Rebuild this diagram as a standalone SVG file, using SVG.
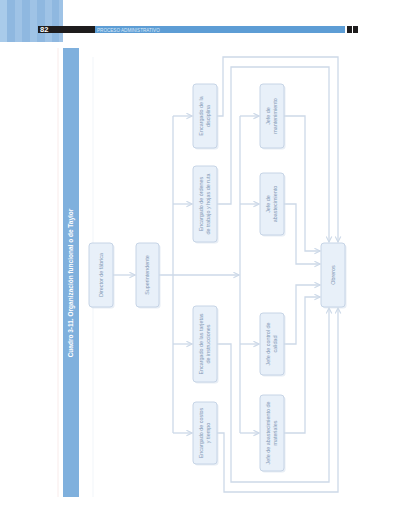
<svg xmlns="http://www.w3.org/2000/svg" width="400" height="526" viewBox="0 0 400 526">
<defs>
<style>
.box{fill:#e8f0f9;stroke:#c6d4e6;stroke-width:1}
.sh{fill:#d9e3ee;opacity:0.6}
.t{font-family:"Liberation Sans",Arial,sans-serif;font-size:5.4px;fill:#8499b6;text-anchor:middle}
.c{fill:none;stroke:#cdd9e8;stroke-width:1.3}
</style>
<marker id="ah" viewBox="0 0 10 10" refX="9" refY="5" markerWidth="7" markerHeight="7" markerUnits="userSpaceOnUse" orient="auto">
<path d="M1,1 L9,5 L1,9" fill="none" stroke="#cdd9e8" stroke-width="1.6"/>
</marker>
</defs>
<rect width="400" height="526" fill="#ffffff"/>
<!-- header -->
<g id="header">
<rect x="0" y="0" width="63" height="42" fill="#9fc3e6"/>
<rect x="0" y="0" width="7" height="42" fill="#a9cbea"/>
<rect x="7" y="0" width="8" height="42" fill="#8fb8e0"/>
<rect x="22" y="0" width="8" height="42" fill="#8fb8e0"/>
<rect x="37" y="0" width="8" height="42" fill="#8fb8e0"/>
<rect x="52" y="0" width="7" height="42" fill="#8fb8e0"/>
<rect x="38" y="26" width="57" height="7" fill="#1e1c1d"/>
<text x="40" y="32.3" font-family="Liberation Sans,Arial,sans-serif" font-size="7.5" font-weight="bold" fill="#ffffff">82</text>
<rect x="95" y="26" width="250" height="7" fill="#5d9dd5"/>
<text x="97" y="31.6" font-family="Liberation Sans,Arial,sans-serif" font-size="4.6" fill="#dbe9f7">PROCESO ADMINISTRATIVO</text>
<rect x="347" y="26" width="5" height="7" fill="#1e1c1d"/>
<rect x="353" y="26" width="5" height="7" fill="#1e1c1d"/>
</g>
<line x1="58" y1="48" x2="58" y2="497" stroke="#f6e6e4" stroke-width="0.8"/>
<line x1="93" y1="57" x2="93" y2="497" stroke="#eef2f7" stroke-width="0.8"/>
<!-- title bar -->
<g id="title">
<rect x="63" y="48" width="16" height="449" fill="#7fb0dd"/>
<text transform="translate(71,283) rotate(-90)" x="0" y="2.3" font-family="Liberation Sans,Arial,sans-serif" font-size="6.5" font-weight="bold" fill="#ffffff" text-anchor="middle">Cuadro 3-11. Organización funcional o de Taylor</text>
</g>
<!-- connectors -->
<g id="connectors">
<path class="c" d="M113,275 H135" marker-end="url(#ah)"/>
<path class="c" d="M159,275 H239" marker-end="url(#ah)"/>
<path class="c" d="M173,116 V433"/>
<path class="c" d="M173,116 H192" marker-end="url(#ah)"/>
<path class="c" d="M173,204 H192" marker-end="url(#ah)"/>
<path class="c" d="M173,344 H192" marker-end="url(#ah)"/>
<path class="c" d="M173,433 H192" marker-end="url(#ah)"/>
<path class="c" d="M240,116 V433"/>
<path class="c" d="M240,116 H259" marker-end="url(#ah)"/>
<path class="c" d="M240,204 H259" marker-end="url(#ah)"/>
<path class="c" d="M240,344 H259" marker-end="url(#ah)"/>
<path class="c" d="M240,433 H259" marker-end="url(#ah)"/>
<path class="c" d="M217,116 H223 V57 H338 V242" marker-end="url(#ah)"/>
<path class="c" d="M217,204 H231 V67 H329 V242" marker-end="url(#ah)"/>
<path class="c" d="M217,344 H231 V482 H329 V308" marker-end="url(#ah)"/>
<path class="c" d="M217,433 H224 V492 H338 V308" marker-end="url(#ah)"/>
<path class="c" d="M284,116 H305 V251 H320" marker-end="url(#ah)"/>
<path class="c" d="M284,204 H296 V264 H320" marker-end="url(#ah)"/>
<path class="c" d="M284,344 H296 V285 H320" marker-end="url(#ah)"/>
<path class="c" d="M284,433 H305 V297 H320" marker-end="url(#ah)"/>
</g>
<!-- nodes -->
<g id="director">
<rect class="sh" x="90.5" y="244.5" width="24" height="64" rx="3"/>
<rect class="box" x="89" y="243" width="24" height="64" rx="3"/>
<text class="t" transform="translate(101,275) rotate(-90)" y="1.9">Director de fábrica</text>
</g>
<g id="superintendente">
<rect class="sh" x="137.5" y="244.5" width="23" height="64" rx="3"/>
<rect class="box" x="136" y="243" width="23" height="64" rx="3"/>
<text class="t" transform="translate(147.5,275) rotate(-90)" y="1.9">Superintendente</text>
</g>
<g id="disciplina">
<rect class="sh" x="194.5" y="85.5" width="24" height="64" rx="3"/>
<rect class="box" x="193" y="84" width="24" height="64" rx="3"/>
<text class="t" transform="translate(205,116) rotate(-90)"><tspan x="0" y="-1.6">Encargado de la</tspan><tspan x="0" y="5.4">disciplina</tspan></text>
</g>
<g id="ordenes">
<rect class="sh" x="194.5" y="167.5" width="24" height="76" rx="3"/>
<rect class="box" x="193" y="166" width="24" height="76" rx="3"/>
<text class="t" transform="translate(205,204) rotate(-90)"><tspan x="0" y="-1.6">Encargado de órdenes</tspan><tspan x="0" y="5.4">de trabajo y hojas de ruta</tspan></text>
</g>
<g id="tarjetas">
<rect class="sh" x="194.5" y="307.5" width="24" height="76" rx="3"/>
<rect class="box" x="193" y="306" width="24" height="76" rx="3"/>
<text class="t" transform="translate(205,344) rotate(-90)"><tspan x="0" y="-1.6">Encargado de las tarjetas</tspan><tspan x="0" y="5.4">de instrucciones</tspan></text>
</g>
<g id="costos">
<rect class="sh" x="194.5" y="403.5" width="24" height="62" rx="3"/>
<rect class="box" x="193" y="402" width="24" height="62" rx="3"/>
<text class="t" transform="translate(205,433) rotate(-90)"><tspan x="0" y="-1.6">Encargado de costos</tspan><tspan x="0" y="5.4">y tiempo</tspan></text>
</g>
<g id="mantenimiento">
<rect class="sh" x="261.5" y="85.5" width="24" height="64" rx="3"/>
<rect class="box" x="260" y="84" width="24" height="64" rx="3"/>
<text class="t" transform="translate(272,116) rotate(-90)"><tspan x="0" y="-1.6">Jefe de</tspan><tspan x="0" y="5.4">mantenimiento</tspan></text>
</g>
<g id="abastecimiento">
<rect class="sh" x="261.5" y="174.5" width="24" height="62" rx="3"/>
<rect class="box" x="260" y="173" width="24" height="62" rx="3"/>
<text class="t" transform="translate(272,204) rotate(-90)"><tspan x="0" y="-1.6">Jefe de</tspan><tspan x="0" y="5.4">abastecimiento</tspan></text>
</g>
<g id="calidad">
<rect class="sh" x="261.5" y="314.5" width="24" height="62" rx="3"/>
<rect class="box" x="260" y="313" width="24" height="62" rx="3"/>
<text class="t" transform="translate(272,344) rotate(-90)"><tspan x="0" y="-1.6">Jefe de control de</tspan><tspan x="0" y="5.4">calidad</tspan></text>
</g>
<g id="materiales">
<rect class="sh" x="261.5" y="396.5" width="24" height="76" rx="3"/>
<rect class="box" x="260" y="395" width="24" height="76" rx="3"/>
<text class="t" transform="translate(272,433) rotate(-90)"><tspan x="0" y="-1.6">Jefe de abastecimiento de</tspan><tspan x="0" y="5.4">materiales</tspan></text>
</g>
<g id="obreros">
<rect class="sh" x="322.5" y="244.5" width="24" height="64" rx="3"/>
<rect class="box" x="321" y="243" width="24" height="64" rx="3"/>
<text class="t" transform="translate(333,275) rotate(-90)" y="1.9">Obreros</text>
</g>
</svg>
